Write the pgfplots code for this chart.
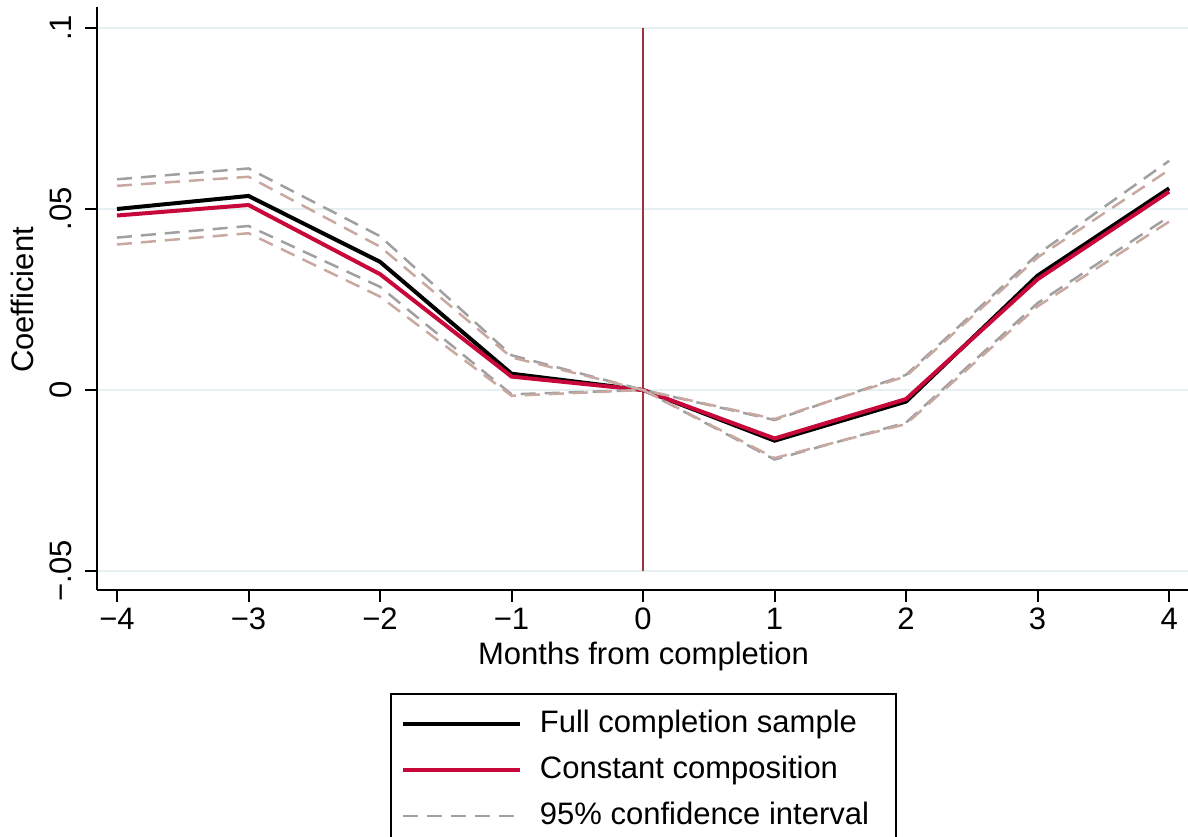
\documentclass[border=0pt]{standalone}
\usepackage{fontspec}
\setmainfont{Liberation Sans}
\usepackage{pgfplots}
\pgfplotsset{compat=1.18}
\definecolor{cred}{RGB}{200,8,58}
\definecolor{cgray}{RGB}{160,160,160}
\definecolor{cbrown}{RGB}{200,168,160}
\definecolor{cvline}{RGB}{160,50,60}
\definecolor{cgrid}{RGB}{230,240,242}
\newcommand\myfont{\fontsize{31}{37}\selectfont}
\pgfplotstableread{
x black red gup glo bup blo
-4 0.0500 0.0482 0.0582 0.0421 0.0564 0.0402
-3 0.0536 0.0511 0.0612 0.0453 0.0589 0.0433
-2 0.0354 0.0320 0.0425 0.0285 0.0396 0.0258
-1 0.0045 0.0037 0.0096 -0.0012 0.0090 -0.0016
0 0 0 0 0 0 0
1 -0.0140 -0.0134 -0.0083 -0.0192 -0.0080 -0.0188
2 -0.0032 -0.0025 0.0042 -0.0090 0.0038 -0.0094
3 0.0316 0.0306 0.0375 0.0240 0.0366 0.0231
4 0.0557 0.0548 0.0633 0.0479 0.0608 0.0465
}\data
\begin{document}
\begin{tikzpicture}
\path[use as bounding box] (0,0) rectangle (1188pt,837pt);
\begin{axis}[
 at={(97pt,247pt)}, anchor=south west,
 width=1091pt, height=583pt, scale only axis,
 xmin=-4.152, xmax=4.144, ymin=-0.05525, ymax=0.1058,
 axis lines=left, axis line style={-, line width=2pt},
 xtick={-4,...,4}, xticklabels={−4,−3,−2,−1,0,1,2,3,4},
 ytick={-0.05,0,0.05,0.1}, yticklabels={−.05,0,.05,.1},
 tick align=outside, major tick length=12pt, tick style={line width=2pt, black},
 ymajorgrids, grid style={cgrid, line width=2pt},
 tick label style={font=\myfont},
 yticklabel style={rotate=90, anchor=south, inner sep=0pt, yshift=13pt},
 xticklabel style={anchor=north, inner sep=0pt, yshift=-6pt},
 xlabel={Months from completion}, ylabel={Coefficient},
 label style={font=\myfont},
 xlabel style={at={(axis description cs:0.5009,-0.1149)}, anchor=center},
 ylabel style={at={(axis description cs:-0.0687,0.4974)}, anchor=center},
 legend style={at={(0.5009,-0.1767)}, anchor=north, draw=black, line width=2pt,
   font=\myfont, inner xsep=10pt, inner ysep=15pt, row sep=16pt,
   nodes={inner sep=0pt, text height=23pt, text depth=7pt},
   /tikz/every odd column/.style={column sep=18pt}},
 legend cell align=left,
 legend image code/.code={\draw[#1] (0pt,0pt) -- (117pt,0pt);},
]
\addplot[cvline, line width=2pt, forget plot] coordinates {(0,-0.05) (0,0.1)};
\addplot[black, line width=4pt] table[x=x,y=black] {\data};
\addlegendentry{Full completion sample}
\addplot[cred, line width=4pt] table[x=x,y=red] {\data};
\addlegendentry{Constant composition}
\addplot[cgray, line width=2.5pt, dash pattern=on 15pt off 9pt] table[x=x,y=gup] {\data};
\addlegendentry{95\% confidence interval\hspace*{17pt}}
\addplot[cgray, line width=2.5pt, dash pattern=on 15pt off 9pt, forget plot] table[x=x,y=glo] {\data};
\addplot[cbrown, line width=2.5pt, dash pattern=on 15pt off 9pt, forget plot] table[x=x,y=bup] {\data};
\addplot[cbrown, line width=2.5pt, dash pattern=on 15pt off 9pt, forget plot] table[x=x,y=blo] {\data};
\end{axis}
\end{tikzpicture}
\end{document}
